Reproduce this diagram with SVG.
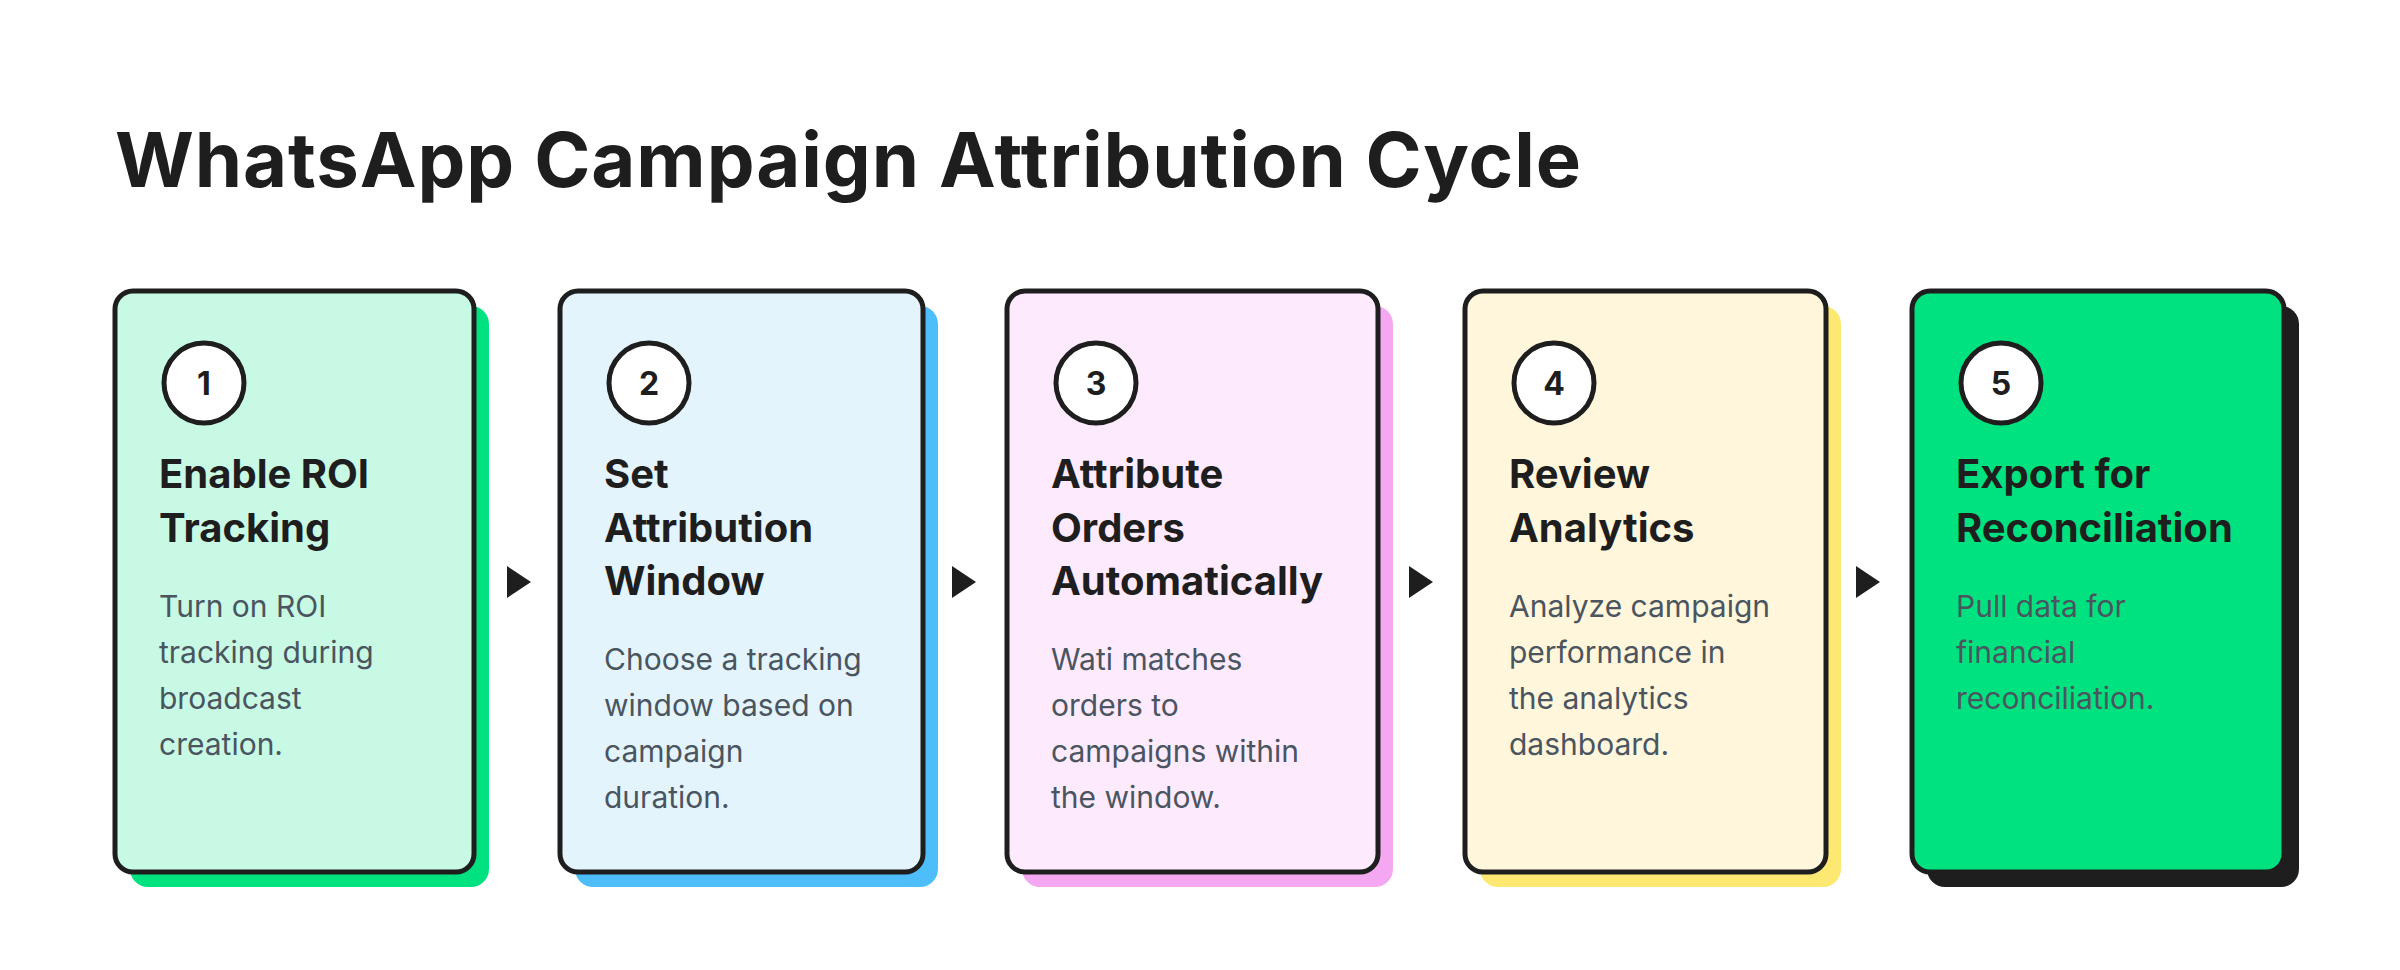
<svg xmlns="http://www.w3.org/2000/svg" width="2400" height="970" viewBox="0 0 2400 970">
<style>
.card{stroke:#1e1e1e;stroke-width:5}
.num{font-family:"Inter","Liberation Sans",sans-serif;font-weight:700;font-size:32px;fill:#1e1e1e;text-anchor:middle}
.h{font-family:"Inter","Liberation Sans",sans-serif;font-weight:700;font-size:40px;fill:#1e1e1e}
.b{font-family:"Inter","Liberation Sans",sans-serif;font-size:30px;fill:#4a5560}
.circ{fill:#fff;stroke:#1e1e1e;stroke-width:5}
</style>
<rect width="2400" height="970" fill="#fff"/>
<text x="115" y="187" font-family="Inter,'Liberation Sans',sans-serif" font-weight="700" font-size="76" fill="#1e1e1e" textLength="1466">WhatsApp Campaign Attribution Cycle</text>
<g id="n1">
<rect x="130" y="306" width="359" height="581" rx="18" fill="#00e27f"/>
<rect class="card" x="115" y="291" width="359" height="581" rx="18" fill="#c8f9e4"/>
<circle class="circ" cx="204" cy="383" r="40"/><text class="num" x="204" y="395">1</text>
<text class="h" x="159" y="488">Enable ROI</text><text class="h" x="159" y="542">Tracking</text>
<text class="b" x="159" y="617">Turn on ROI</text><text class="b" x="159" y="663">tracking during</text><text class="b" x="159" y="709">broadcast</text><text class="b" x="159" y="755">creation.</text>
</g>
<g id="n2">
<rect x="575" y="306" width="363" height="581" rx="18" fill="#4dbefa"/>
<rect class="card" x="560" y="291" width="363" height="581" rx="18" fill="#e3f4fd"/>
<circle class="circ" cx="649" cy="383" r="40"/><text class="num" x="649" y="395">2</text>
<text class="h" x="604" y="488">Set</text><text class="h" x="604" y="542">Attribution</text><text class="h" x="604" y="595">Window</text>
<text class="b" x="604" y="670">Choose a tracking</text><text class="b" x="604" y="716">window based on</text><text class="b" x="604" y="762">campaign</text><text class="b" x="604" y="808">duration.</text>
</g>
<g id="n3">
<rect x="1022" y="306" width="371" height="581" rx="18" fill="#f5a8f2"/>
<rect class="card" x="1007" y="291" width="371" height="581" rx="18" fill="#fdeafd"/>
<circle class="circ" cx="1096" cy="383" r="40"/><text class="num" x="1096" y="395">3</text>
<text class="h" x="1051" y="488">Attribute</text><text class="h" x="1051" y="542">Orders</text><text class="h" x="1051" y="595">Automatically</text>
<text class="b" x="1051" y="670">Wati matches</text><text class="b" x="1051" y="716">orders to</text><text class="b" x="1051" y="762">campaigns within</text><text class="b" x="1051" y="808">the window.</text>
</g>
<g id="n4">
<rect x="1480" y="306" width="361" height="581" rx="18" fill="#fde872"/>
<rect class="card" x="1465" y="291" width="361" height="581" rx="18" fill="#fff6db"/>
<circle class="circ" cx="1554" cy="383" r="40"/><text class="num" x="1554" y="395">4</text>
<text class="h" x="1509" y="488">Review</text><text class="h" x="1509" y="542">Analytics</text>
<text class="b" x="1509" y="617">Analyze campaign</text><text class="b" x="1509" y="663">performance in</text><text class="b" x="1509" y="709">the analytics</text><text class="b" x="1509" y="755">dashboard.</text>
</g>
<g id="n5">
<rect x="1927" y="306" width="372" height="581" rx="18" fill="#1e1e1e"/>
<rect class="card" x="1912" y="291" width="372" height="581" rx="18" fill="#00e27f"/>
<circle class="circ" cx="2001" cy="383" r="40"/><text class="num" x="2001" y="395">5</text>
<text class="h" x="1956" y="488">Export for</text><text class="h" x="1956" y="542">Reconciliation</text>
<text class="b" x="1956" y="617" fill="#1e1e1e">Pull data for</text><text class="b" x="1956" y="663" fill="#1e1e1e">financial</text><text class="b" x="1956" y="709" fill="#1e1e1e">reconciliation.</text>
</g>
<g id="connectors" fill="#1e1e1e">
<polygon points="507,566 531,582 507,598"/>
<polygon points="952,566 976,582 952,598"/>
<polygon points="1409,566 1433,582 1409,598"/>
<polygon points="1856,566 1880,582 1856,598"/>
</g>
</svg>
